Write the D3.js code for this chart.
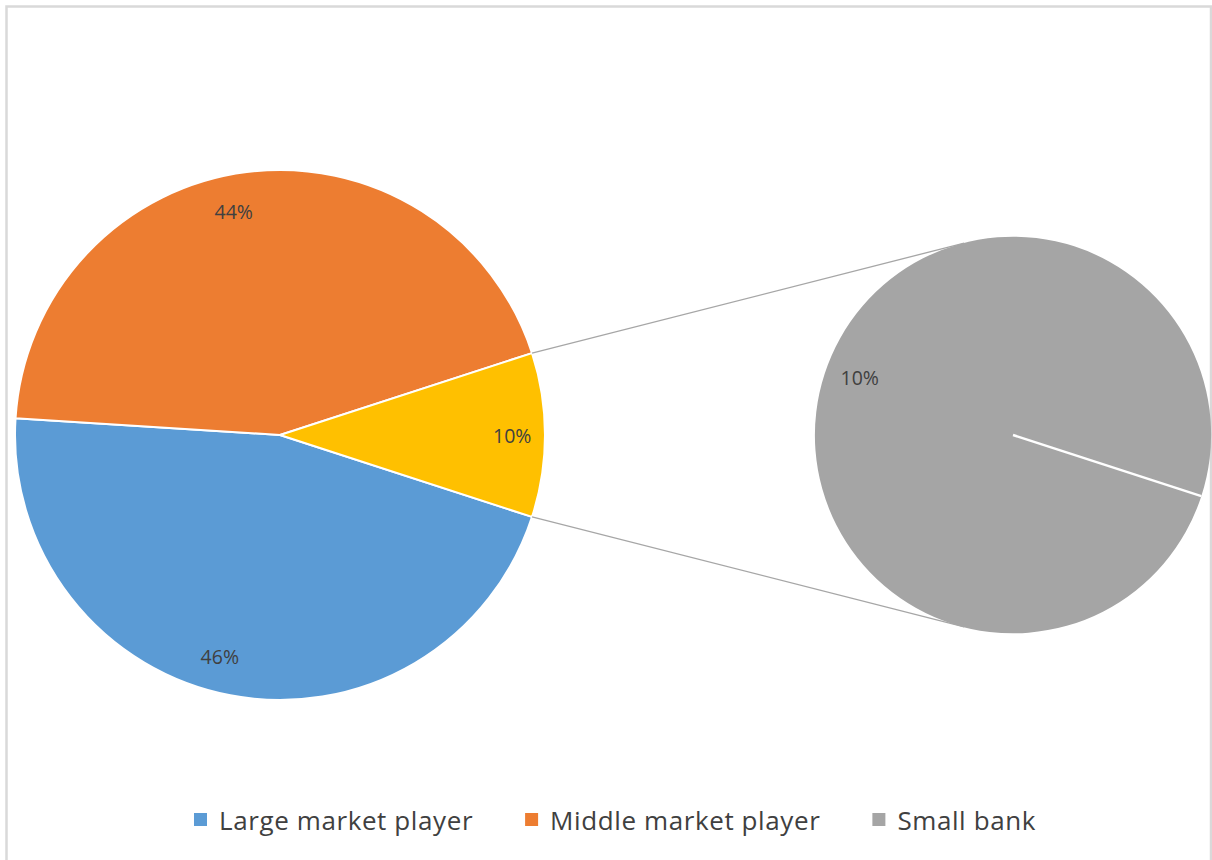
<!DOCTYPE html>
<html>
<head>
<meta charset="utf-8">
<script src="https://cdn.jsdelivr.net/npm/d3@7"></script>
<style>
  html, body { margin: 0; padding: 0; background: #fff; }
  svg { display: block; font-family: "Open Sans", Lato, sans-serif; }
</style>
</head>
<body>
<svg id="chart" width="1212" height="860"></svg>
<script>
// Market share by player type (percent)
const categories = ["Large market player", "Middle market player", "Small bank"];
const shares = [46, 44, 10];
const colors = ["#5B9BD5", "#ED7D31", "#A5A5A5"];
// Slice that groups the small players in the main pie
const otherColor = "#FFC000";
// Index of categories that are split out into the secondary pie
const secondaryIdx = [2];

const W = 1212, H = 860;
const svg = d3.select("#chart");

// chart frame
svg.append("rect")
  .attr("x", 6.5).attr("y", 6.5)
  .attr("width", 1204.5).attr("height", 900)
  .attr("fill", "#fff")
  .attr("stroke", "#d9d9d9").attr("stroke-width", 2.5);

// main pie: primary categories + one combined "other" slice
const mainData = categories
  .map((c, i) => ({ key: c, value: shares[i], color: colors[i] }))
  .filter((d, i) => !secondaryIdx.includes(i));
const otherValue = d3.sum(secondaryIdx, i => shares[i]);
mainData.push({ key: "__other", value: otherValue, color: otherColor });

const total = d3.sum(mainData, d => d.value);
const otherSpan = otherValue / total * 2 * Math.PI;
// the combined slice is centred on 3 o'clock, facing the secondary pie
const start = Math.PI / 2 + otherSpan / 2;

const main = { cx: 280, cy: 435, r: 265 };
const sec = { cx: 1013, cy: 435, r: 198 };

const pie = d3.pie().sort(null).value(d => d.value)
  .startAngle(start).endAngle(start + 2 * Math.PI);
const mainArcs = pie(mainData);

const arc = d3.arc().innerRadius(0).outerRadius(main.r);
const gMain = svg.append("g").attr("transform", `translate(${main.cx},${main.cy})`);
gMain.selectAll("path").data(mainArcs).join("path")
  .attr("d", arc)
  .attr("fill", d => d.data.color)
  .attr("stroke", "#fff").attr("stroke-width", 2)
  .attr("stroke-linejoin", "round");

const pt = (c, r, a) => [c.cx + r * Math.sin(a), c.cy - r * Math.cos(a)];

// labels on the main pie
const fmt = v => Math.round(v) + "%";
const labelArc = d3.arc().innerRadius(main.r * 0.85).outerRadius(main.r * 0.85);
gMain.selectAll("text").data(mainArcs).join("text")
  .attr("transform", d => {
    const [x, y] = labelArc.centroid(d);
    const shift = d.data.key === "__other" ? 7 : -18;
    return `translate(${x + shift},${y})`;
  })
  .attr("text-anchor", "middle")
  .attr("dominant-baseline", "central")
  .attr("font-size", 19.5)
  .attr("fill", "#404040")
  .text(d => fmt(d.value / total * 100));

// secondary pie: the split-out categories
const secData = secondaryIdx.map(i => ({ key: categories[i], value: shares[i], color: colors[i] }));
const otherArc = mainArcs.find(d => d.data.key === "__other");
const secStart = otherArc.endAngle;  // boundary continues across to the secondary pie
const secPie = d3.pie().sort(null).value(d => d.value)
  .startAngle(secStart).endAngle(secStart + 2 * Math.PI);
const secArcs = secPie(secData);
const secArc = d3.arc().innerRadius(0).outerRadius(sec.r);
const gSec = svg.append("g").attr("transform", `translate(${sec.cx},${sec.cy})`);
gSec.selectAll("path").data(secArcs).join("path")
  .attr("d", secArc)
  .attr("fill", d => d.data.color);
// slice boundaries (radial separators)
gSec.selectAll("line.sep").data(secArcs).join("line")
  .attr("class", "sep")
  .attr("x1", 0).attr("y1", 0)
  .attr("x2", d => sec.r * Math.sin(d.startAngle))
  .attr("y2", d => -sec.r * Math.cos(d.startAngle))
  .attr("stroke", "#fff").attr("stroke-width", 2.5);

const secLabelArc = d3.arc().innerRadius(sec.r * 0.83).outerRadius(sec.r * 0.83);
const secTotal = d3.sum(secData, d => d.value);
gSec.selectAll("text").data(secArcs).join("text")
  .attr("transform", d => {
    const [x, y] = secLabelArc.centroid(d);
    return `translate(${x + 3},${y - 7})`;
  })
  .attr("text-anchor", "middle")
  .attr("dominant-baseline", "central")
  .attr("font-size", 19.5)
  .attr("fill", "#404040")
  .text(d => fmt(d.value / secTotal * otherValue));

// connector lines: from the edges of the combined slice, tangent to the secondary pie
function tangent(p, c, side) {
  const dx = p[0] - c.cx, dy = p[1] - c.cy;
  const d = Math.hypot(dx, dy);
  const base = Math.atan2(dy, dx);
  const off = Math.acos(c.r / d);
  const t = base + side * off;
  return [c.cx + c.r * Math.cos(t), c.cy + c.r * Math.sin(t)];
}
const pTop = pt(main, main.r, otherArc.startAngle);
const pBot = pt(main, main.r, otherArc.endAngle);
const connectors = [[pTop, tangent(pTop, sec, 1)], [pBot, tangent(pBot, sec, -1)]];
svg.append("g").selectAll("line").data(connectors).join("line")
  .attr("x1", d => d[0][0]).attr("y1", d => d[0][1])
  .attr("x2", d => d[1][0]).attr("y2", d => d[1][1])
  .attr("stroke", "#a6a6a6").attr("stroke-width", 1.3);

// legend
const legend = svg.append("g");
const items = legend.selectAll("g").data(categories).join("g");
items.append("rect").attr("width", 13).attr("height", 13)
  .attr("y", -7).attr("fill", (d, i) => colors[i]);
items.append("text").attr("x", 25)
  .attr("dominant-baseline", "central")
  .attr("font-size", 26)
  .attr("letter-spacing", 0.6)
  .attr("fill", "#404040")
  .text(d => d);
let x = 0;
const gap = 52;
items.each(function () {
  const g = d3.select(this);
  g.attr("transform", `translate(${x},0)`);
  x += 25 + g.select("text").node().getComputedTextLength() + gap;
});
const legendW = x - gap;
legend.attr("transform", `translate(${615 - legendW / 2},820)`);
</script>
</body>
</html>
